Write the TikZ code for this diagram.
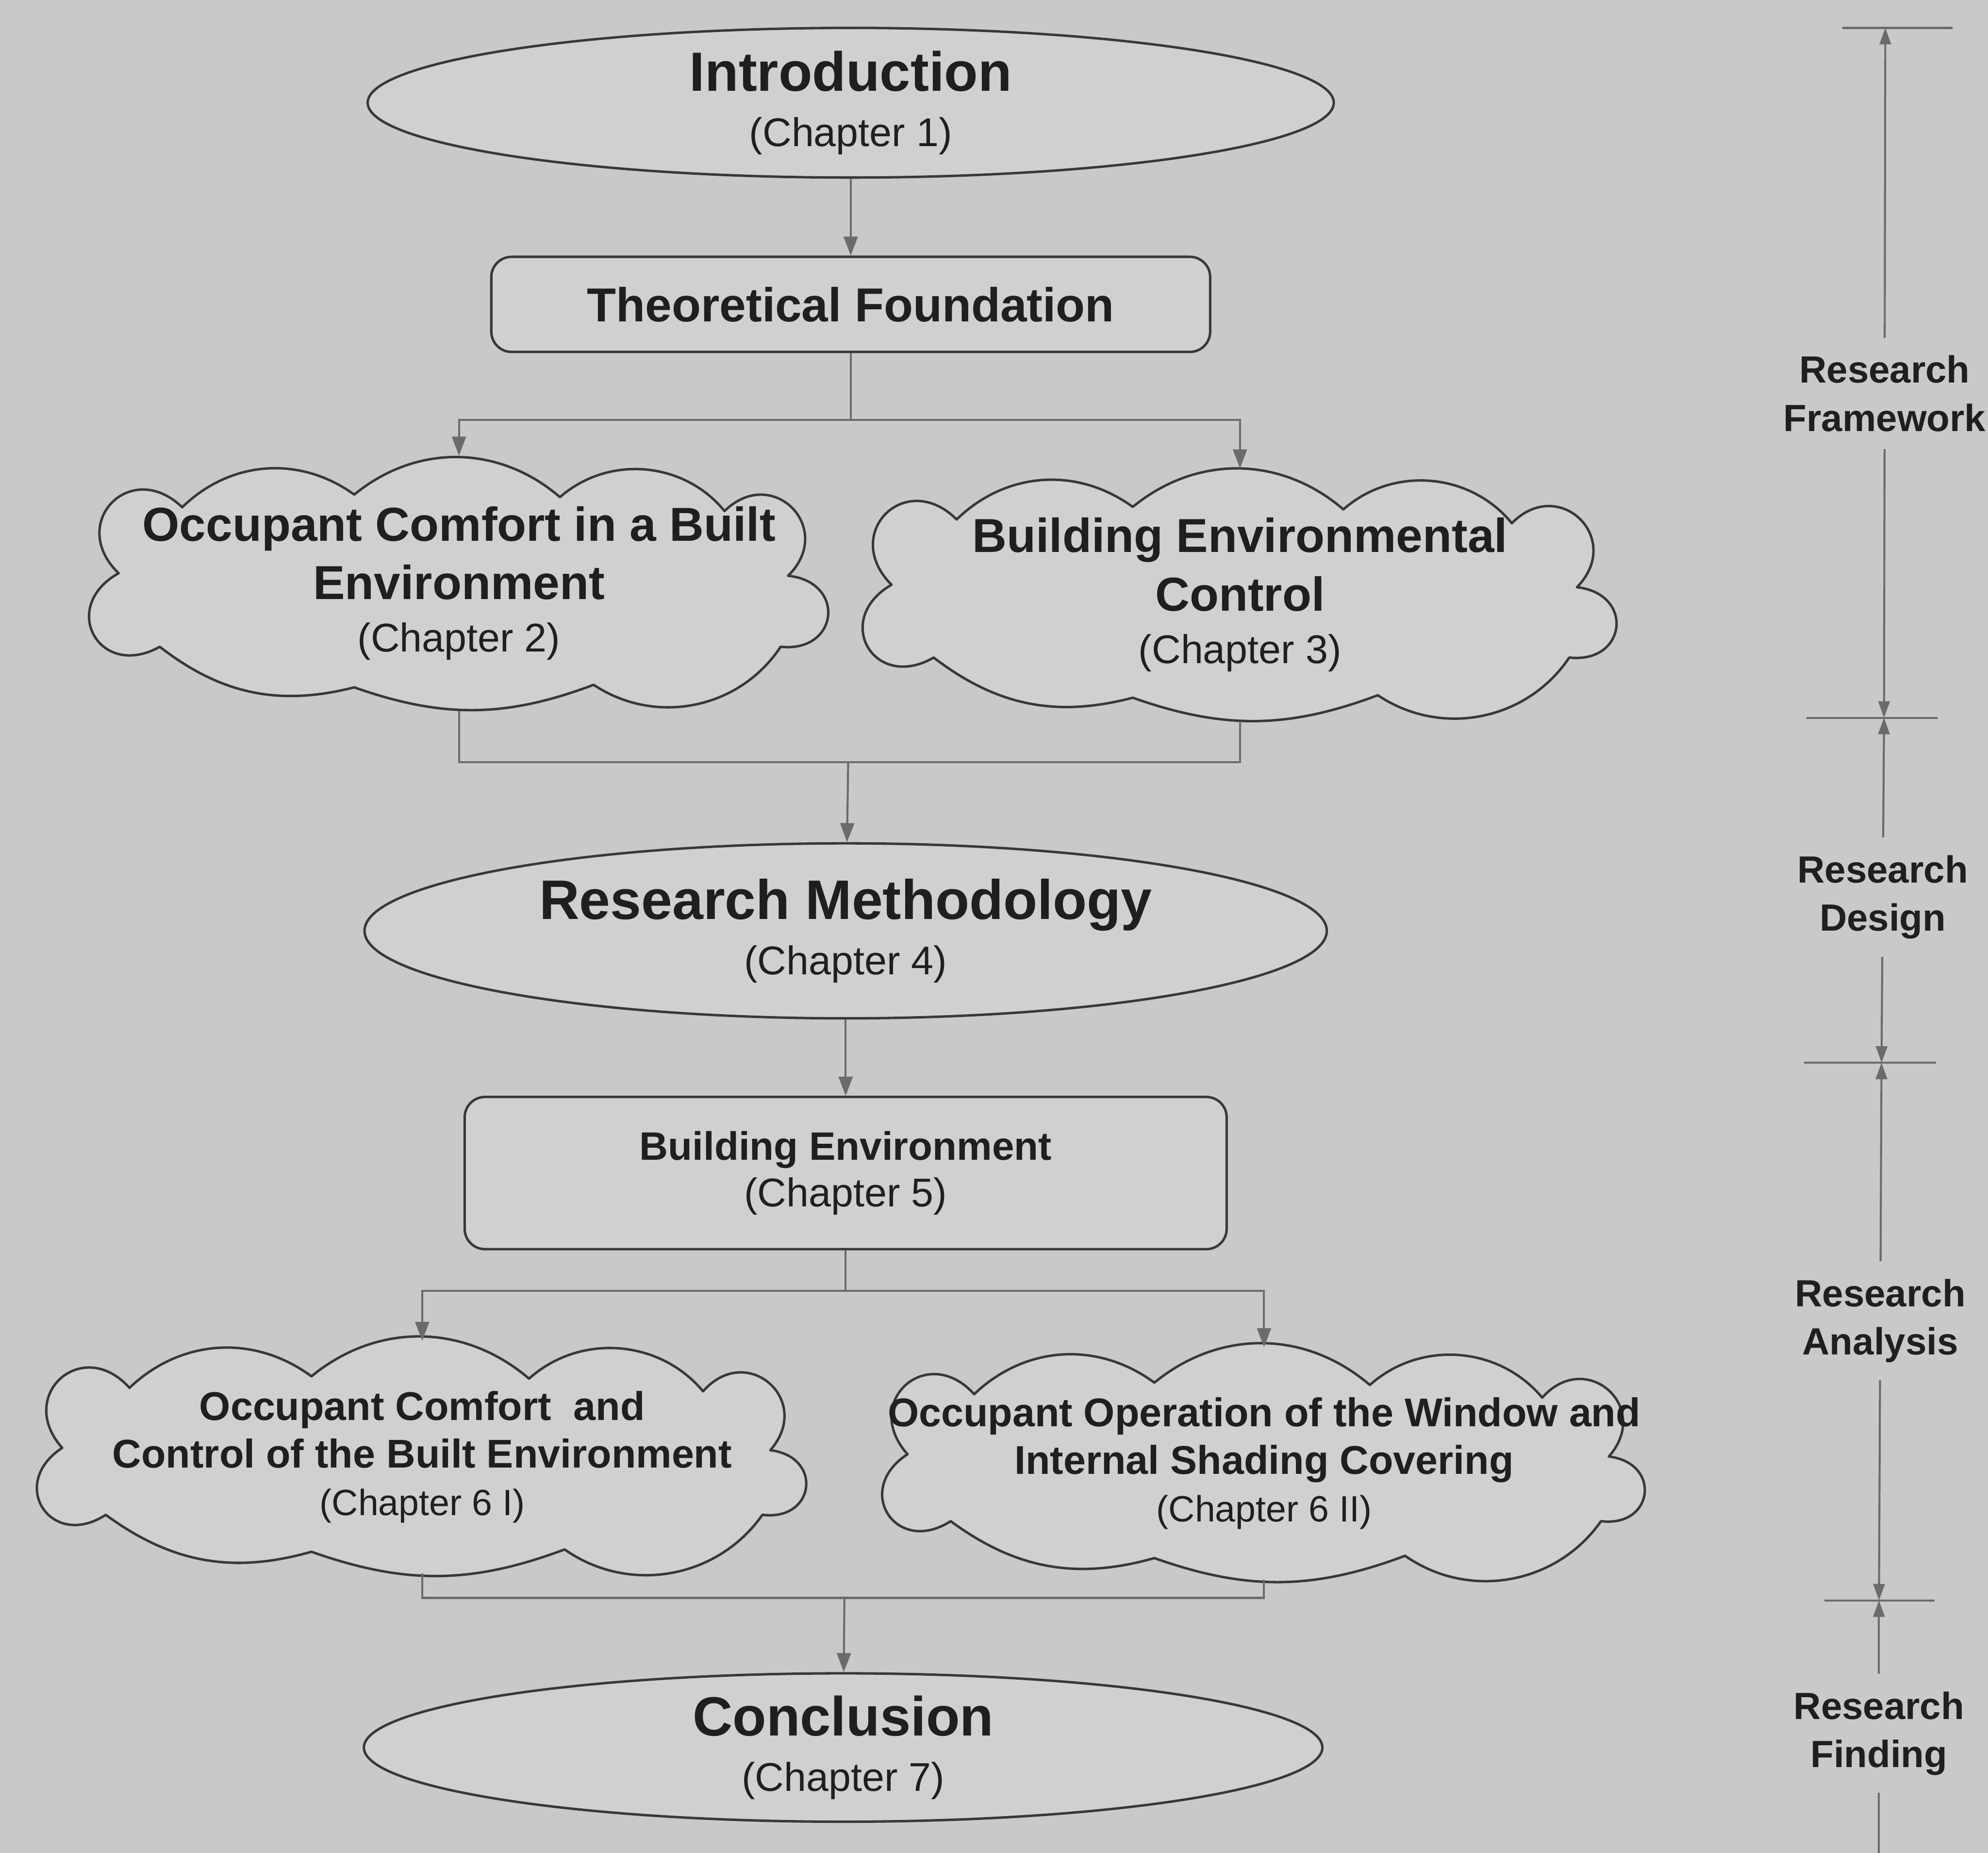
\documentclass[tikz,border=0pt]{standalone}
\usepackage{fontspec}
\setmainfont{Liberation Sans}
\usetikzlibrary{positioning, shapes.geometric, arrows.meta}

\definecolor{paper}{gray}{0.79}
\definecolor{boxfill}{gray}{0.815}
\definecolor{edge}{gray}{0.22}
\definecolor{wirec}{gray}{0.42}
\definecolor{ink}{gray}{0.12}

% cloud outline: #1 half-width, #2 half-height
\tikzset{pics/puffcloud/.style 2 args={code={
    \filldraw[draw=edge, fill=boxfill, line width=0.55pt, line join=round]
        ({-0.74*#1},{-0.60*#2}) to[bend left=40] ({-0.28*#1},{-0.70*#2})
        to[bend left=40] ({0.27*#1},{-0.68*#2})
        to[bend left=46] ({0.71*#1},{-0.57*#2})
        to[bend left=90, looseness=1.9] ({0.88*#1},{-0.06*#2})
        to[bend left=90, looseness=2.1] ({0.86*#1},{0.50*#2})
        to[bend left=45] ({0.36*#1},{0.80*#2})
        to[bend left=20] ({-0.28*#1},{0.82*#2})
        to[bend left=26] ({-0.80*#1},{0.50*#2})
        to[bend left=90, looseness=2.1] ({-0.91*#1},{-0.08*#2})
        to[bend left=90, looseness=2.0] ({-0.74*#1},{-0.60*#2}) -- cycle;
}}}

\begin{document}
\begin{tikzpicture}[x=0.1mm, y=-0.1mm,
    ovalbox/.style={ellipse, draw=edge, line width=0.55pt, fill=boxfill, inner sep=0pt,
        align=center, text=ink, font=\fontsize{9}{12.4}\selectfont},
    roundbox/.style={rectangle, rounded corners=1.6mm, draw=edge, line width=0.55pt,
        fill=boxfill, align=center, text=ink},
    cloudtext/.style={align=center, text=ink, inner sep=0pt},
    wire/.style={draw=wirec, line width=0.45pt},
    flow/.style={wire, -{Triangle[length=1.5mm, width=1.1mm]}},
    dimline/.style={draw=wirec, line width=0.45pt,
        {Triangle[length=1.3mm, width=0.9mm]}-{Triangle[length=1.3mm, width=0.9mm]}},
    stagelabel/.style={fill=paper, inner xsep=0pt, inner ysep=1.4mm, align=center,
        text=ink, font=\bfseries\fontsize{8.5}{10.8}\selectfont}]

    % Page
    \fill[paper] (0,0) rectangle (1568,1461);
    \useasboundingbox (0,0) rectangle (1568,1461);

    % Chapters
    \node[ovalbox, minimum width=76.2mm, minimum height=11.8mm] (intro) at (671,81)
        {{\bfseries\fontsize{12.4}{12.4}\selectfont Introduction}\\(Chapter 1)};
    \node[roundbox, minimum width=56.7mm, minimum height=7.5mm,
        font=\bfseries\fontsize{10.7}{12}\selectfont] (theory) at (671,240)
        {Theoretical Foundation};

    \pic at (362,460) {puffcloud={295}{100}};
    \node[cloudtext, minimum width=58.9mm, minimum height=20mm,
        font=\fontsize{9}{13.1}\selectfont] (comfort) at (362,460)
        {{\bfseries\fontsize{10.7}{13.1}\selectfont Occupant Comfort in a Built}\\
         {\bfseries\fontsize{10.7}{13.1}\selectfont Environment}\\[-1.3pt]
         (Chapter 2)};
    \pic at (978,469) {puffcloud={302}{99}};
    \node[cloudtext, minimum width=60.4mm, minimum height=19.8mm,
        font=\fontsize{9}{13.1}\selectfont] (control) at (978,469)
        {{\bfseries\fontsize{10.7}{13.1}\selectfont Building Environmental}\\
         {\bfseries\fontsize{10.7}{13.1}\selectfont Control}\\[-1.3pt]
         (Chapter 3)};

    \node[ovalbox, minimum width=75.9mm, minimum height=13.8mm] (method) at (667,734)
        {{\bfseries\fontsize{12.5}{12.4}\selectfont Research Methodology}\\(Chapter 4)};
    \node[roundbox, minimum width=60.1mm, minimum height=12mm,
        font=\fontsize{9}{10.5}\selectfont] (buildenv) at (667,925)
        {{\bfseries\fontsize{8.9}{10.5}\selectfont Building Environment}\\(Chapter 5)};

    \pic at (333,1149) {puffcloud={312}{91}};
    \node[cloudtext, minimum width=62.5mm, minimum height=18.2mm,
        font=\fontsize{8.2}{10.7}\selectfont] (comfctl) at (333,1149)
        {{\bfseries\fontsize{9}{10.7}\selectfont Occupant Comfort~ and}\\
         {\bfseries\fontsize{9}{10.7}\selectfont Control of the Built Environment}\\
         (Chapter 6 I)};
    \pic at (997,1154) {puffcloud={309}{91}};
    \node[cloudtext, minimum width=61.8mm, minimum height=18.2mm,
        font=\fontsize{8.2}{10.7}\selectfont] (window) at (997,1154)
        {{\bfseries\fontsize{9}{10.7}\selectfont Occupant Operation of the Window and}\\
         {\bfseries\fontsize{9}{10.7}\selectfont Internal Shading Covering}\\
         (Chapter 6 II)};

    \node[ovalbox, minimum width=75.6mm, minimum height=11.7mm] (concl) at (665,1378)
        {{\bfseries\fontsize{12.4}{12.4}\selectfont Conclusion}\\(Chapter 7)};

    % Junctions
    \coordinate (split1) at (671,331);
    \coordinate (merge1) at (669,601);
    \coordinate (split2) at (667,1018);
    \coordinate (merge2) at (666,1260);

    % Flow
    \draw[flow] (intro) -- (theory);
    \draw[wire] (theory) -- (split1);
    \draw[flow] (split1) -| (comfort.north);
    \draw[flow] (split1) -| (control.north);
    \draw[wire] (comfort.south) |- (merge1) -| (control.south);
    \draw[flow] (merge1) -- (method);
    \draw[flow] (method) -- (buildenv);
    \draw[wire] (buildenv) -- (split2);
    \draw[flow] (split2) -| (comfctl.north);
    \draw[flow] (split2) -| (window.north);
    \draw[wire] (comfctl.south) |- (merge2) -| (window.south);
    \draw[flow] (merge2) -- (concl);

    % Stage scale
    \coordinate (tk0) at (1487,22);
    \coordinate (tk1) at (1486,566);
    \coordinate (tk2) at (1484,838);
    \coordinate (tk3) at (1482,1262);
    \coordinate (tk4) at (1482,1495);
    \draw[wire] ([xshift=-3.4mm]tk0) -- ([xshift=5.3mm]tk0);
    \draw[wire] ([xshift=-6.1mm]tk1) -- ([xshift=4.2mm]tk1);
    \draw[wire] ([xshift=-6.1mm]tk2) -- ([xshift=4.3mm]tk2);
    \draw[wire] ([xshift=-4.3mm]tk3) -- ([xshift=4.4mm]tk3);
    \draw[dimline] (tk0) -- (tk1) node[stagelabel, pos=0.53] (framework) {Research\\Framework};
    \draw[dimline] (tk1) -- (tk2) node[stagelabel, pos=0.52] (design) {Research\\Design};
    \draw[dimline] (tk2) -- (tk3) node[stagelabel, pos=0.48] (analysis) {Research\\Analysis};
    \draw[dimline] (tk3) -- (tk4) node[stagelabel, pos=0.45] (finding) {Research\\Finding};
\end{tikzpicture}
\end{document}
